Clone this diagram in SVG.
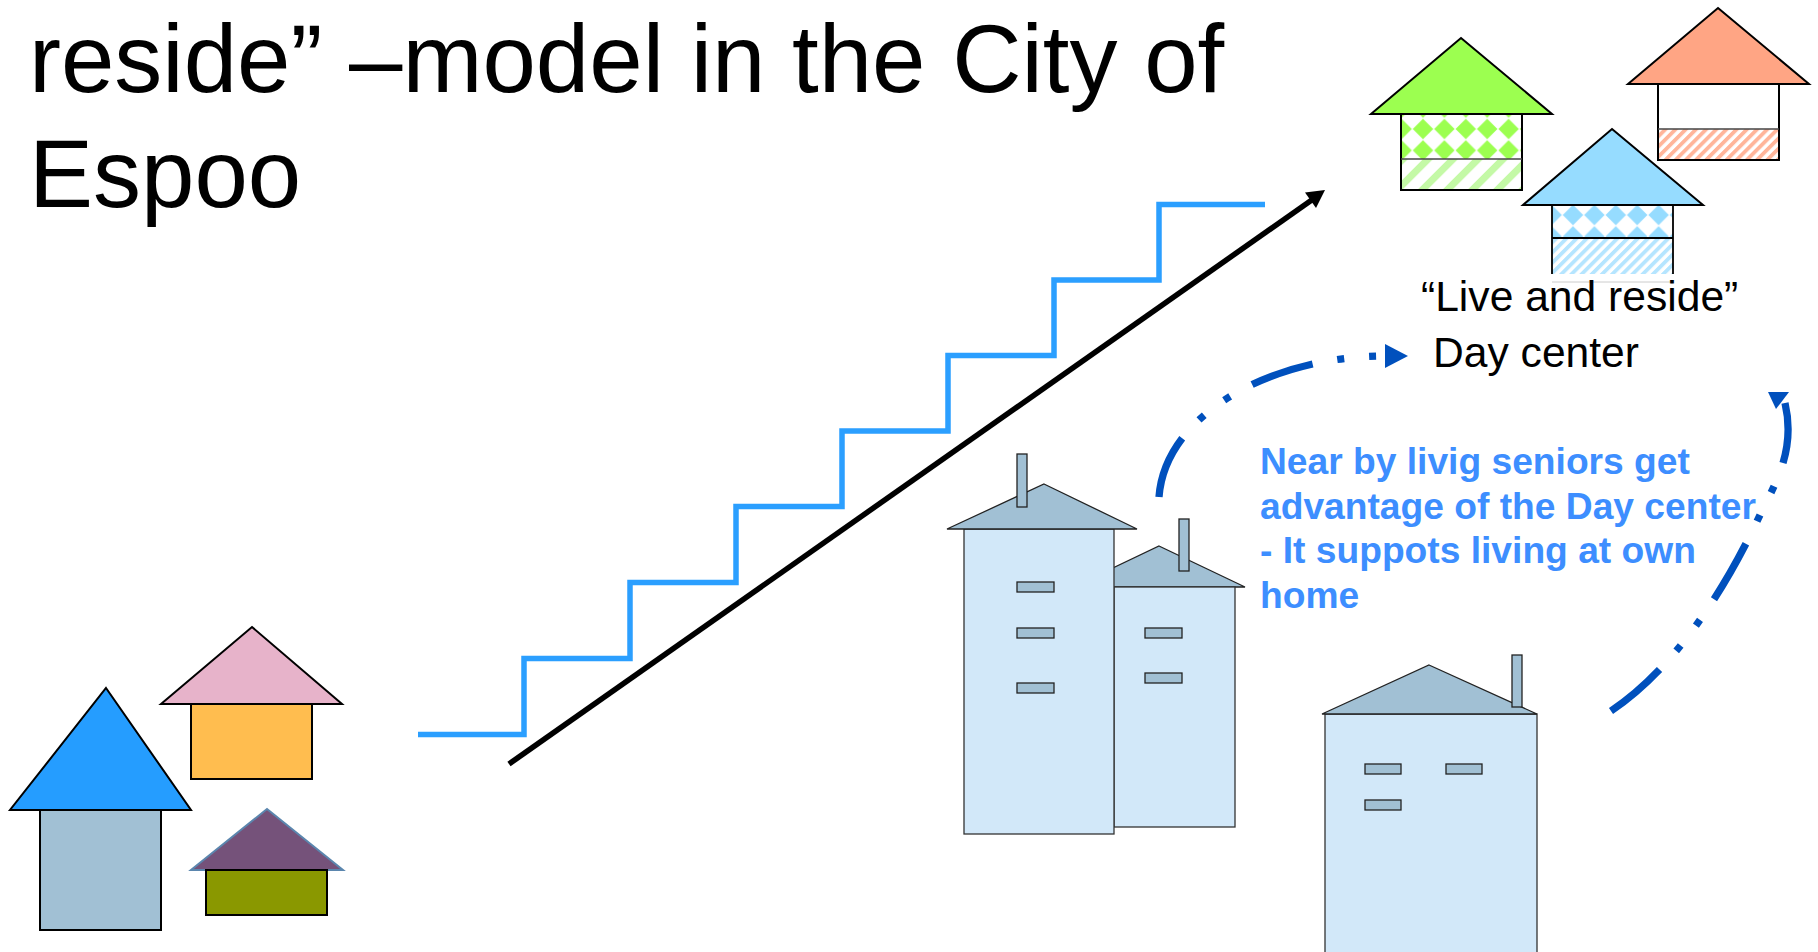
<svg xmlns="http://www.w3.org/2000/svg" width="1818" height="952" viewBox="0 0 1818 952">
<style>
text{font-family:"Liberation Sans",Arial,sans-serif}
.title{font-size:96px;fill:#000}
.lbl{font-size:42.6px;fill:#000}
.note{font-size:37.2px;font-weight:bold;fill:#3d8eff}
.o{stroke:#000;stroke-width:2}
.t{stroke:#222;stroke-width:1.3;fill:#a1c0d4}
.b{stroke:#333;stroke-width:1.3;fill:#d2e8f9}
.flow{fill:none;stroke:#0050bd;stroke-width:7.3;stroke-dasharray:64 25 7 25 7 25}
</style>
<defs>
<pattern id="dg" width="21.4" height="21.4" patternUnits="userSpaceOnUse" x="1412.3" y="118.3"><rect width="21.4" height="21.4" fill="#fff"/><path d="M10.7 .5L20.9 10.7 10.7 20.9 .5 10.7Z" fill="#9cff50"/></pattern>
<pattern id="db" width="21.4" height="21.4" patternUnits="userSpaceOnUse" x="1562.3" y="204.3"><rect width="21.4" height="21.4" fill="#fff"/><path d="M10.7 .5L20.9 10.7 10.7 20.9 .5 10.7Z" fill="#96dcff"/></pattern>
<pattern id="sg" width="17.7" height="17.7" patternUnits="userSpaceOnUse" patternTransform="rotate(45 1401 160)"><rect width="17.7" height="17.7" fill="#fff"/><rect width="7" height="17.7" fill="#c4f9a6"/></pattern>
<pattern id="so" width="7.2" height="7.2" patternUnits="userSpaceOnUse" patternTransform="rotate(45)"><rect width="7.2" height="7.2" fill="#fff"/><rect width="3.8" height="7.2" fill="#ffb59a"/></pattern>
<pattern id="sb" width="7.2" height="7.2" patternUnits="userSpaceOnUse" patternTransform="rotate(45)"><rect width="7.2" height="7.2" fill="#fff"/><rect width="3.8" height="7.2" fill="#b5e5ff"/></pattern>
</defs>
<rect width="1818" height="952" fill="#fff"/>
<g id="title"><text class="title" x="29" y="92">reside” –model in the City of</text><text class="title" x="29" y="207">Espoo</text></g>
<g id="house-left-blue"><rect class="o" x="40" y="810" width="121" height="120" fill="#a1c0d4"/><path class="o" d="M106 688L191 810H10Z" fill="#259dff"/></g>
<g id="house-left-pink"><rect class="o" x="191" y="704" width="121" height="75" fill="#ffbd4f"/><path class="o" d="M252 627L342 704H161Z" fill="#e7b3ca"/></g>
<g id="house-left-purple"><path d="M267 809L343 870H191Z" fill="#75527a" stroke="#5b86ae" stroke-width="2"/><rect class="o" x="206" y="870" width="121" height="45" fill="#8a9800"/></g>
<g id="connectors">
<path d="M418 734.5H524V658.5H630V582.5H736V506.5H842V431H948V355.5H1054V280H1159V204.5H1265" fill="none" stroke="#2b9fff" stroke-width="5.5"/>
<path d="M509 764L1316 197" stroke="#000" stroke-width="5.5" fill="none"/>
<path d="M1325 190L1305 192.5L1316 208Z" fill="#000"/>
<path class="flow" d="M1159 497C1165 415 1270 356 1386 356"/>
<path d="M1385 344L1408 356L1385 368Z" fill="#0050bd"/>
<path class="flow" d="M1611 711C1675 668 1725 590 1760 515C1776 482 1796 450 1785 403"/>
<path d="M1768 392H1789L1776 409Z" fill="#0050bd"/>
</g>
<g id="building-small"><path class="t" d="M1159 546L1245 587H1073Z"/><rect class="b" x="1114" y="587" width="121" height="240"/><rect class="t" x="1179" y="519" width="10" height="52"/><rect class="t" x="1145" y="628" width="37" height="10"/><rect class="t" x="1145" y="673" width="37" height="10"/></g>
<g id="building-tall"><rect class="b" x="964" y="529" width="150" height="305"/><path class="t" d="M1044 484L1137 529H947Z"/><rect class="t" x="1017" y="454" width="10" height="53"/><rect class="t" x="1017" y="582" width="37" height="10"/><rect class="t" x="1017" y="628" width="37" height="10"/><rect class="t" x="1017" y="683" width="37" height="10"/></g>
<g id="building-right"><rect class="b" x="1325" y="714" width="212" height="250"/><path class="t" d="M1429 665L1537 714H1322Z"/><rect class="t" x="1512" y="655" width="10" height="52"/><rect class="t" x="1365" y="764" width="36" height="10"/><rect class="t" x="1446" y="764" width="36" height="10"/><rect class="t" x="1365" y="800" width="36" height="10"/></g>
<g id="house-green"><rect x="1401" y="114" width="121" height="45" fill="url(#dg)"/><rect x="1401" y="159" width="121" height="31" fill="url(#sg)"/><rect class="o" x="1401" y="114" width="121" height="76" fill="none"/><path d="M1401 159H1522" stroke="#444" stroke-width="1.5"/><path class="o" d="M1461 38L1552 114H1371Z" fill="#9cff50"/></g>
<g id="house-orange"><rect x="1658" y="129" width="121" height="31" fill="url(#so)"/><rect class="o" x="1658" y="84" width="121" height="76" fill="none"/><path d="M1658 129H1779" stroke="#444" stroke-width="1.5"/><path class="o" d="M1718 8L1809 84H1628Z" fill="#ffa584"/></g>
<g id="house-blue"><rect x="1552" y="205" width="121" height="33" fill="url(#db)"/><rect x="1552" y="238" width="121" height="36" fill="url(#sb)"/><path d="M1552 274V205H1673V274M1552 238H1673" fill="none" stroke="#000" stroke-width="1.8"/><path d="M1552 282H1673" stroke="#ccc" stroke-width="1"/><path class="o" d="M1612 129L1703 205H1523Z" fill="#96dcff"/></g>
<g id="labels"><text class="lbl" x="1421" y="311">“Live and reside”</text><text class="lbl" x="1433" y="367">Day center</text>
<text class="note" x="1260" y="474">Near by livig seniors get</text><text class="note" x="1260" y="518.5">advantage of the Day center</text><text class="note" x="1260" y="563">- It suppots living at own</text><text class="note" x="1260" y="607.5">home</text></g>
</svg>
